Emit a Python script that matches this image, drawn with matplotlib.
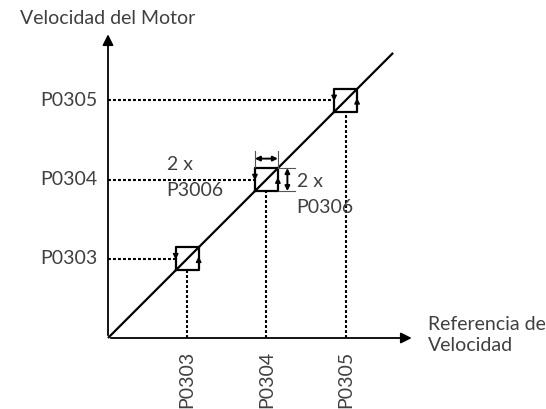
import matplotlib.pyplot as plt

# niveles de referencia (unidades del diagrama)
niveles = [1, 2, 3]
etiquetas = ['P0303', 'P0304', 'P0305']
histeresis = 0.145          # medio ancho del cuadro
fin_diagonal = 3.6
fin_eje = 3.87

s = 79.2                    # pixeles por unidad
ox, oy = 108, 338           # origen en pixeles
W, H = 546, 409

fig = plt.figure(figsize=(W / 100, H / 100), dpi=100)
ax = fig.add_axes([0, 0, 1, 1])
ax.set_xlim(-ox / s, (W - ox) / s)
ax.set_ylim(-(H - oy) / s, oy / s)
ax.axis('off')

plt.rcParams['font.family'] = ['Lato', 'DejaVu Sans']
gris = '#404040'
fs = 14

# ejes
ax.annotate('', xy=(0, fin_eje), xytext=(0, 0),
            arrowprops=dict(arrowstyle='-|>', lw=1.3, color='k', mutation_scale=16))
ax.annotate('', xy=(fin_eje, 0), xytext=(0, 0),
            arrowprops=dict(arrowstyle='-|>', lw=1.3, color='k', mutation_scale=16))
ax.text(-88 / s, (oy - 19) / s, 'Velocidad del Motor', fontsize=fs, color=gris,
        ha='left', va='center')
ax.text((428 - ox) / s, 0.04, 'Referencia de\nVelocidad', fontsize=fs, color=gris,
        ha='left', va='center', linespacing=1.3)

# diagonal
ax.plot([0, fin_diagonal], [0, fin_diagonal], color='k', lw=1.6, solid_capstyle='butt')

h = histeresis
for n, lab in zip(niveles, etiquetas):
    # punteadas
    ax.plot([0, n - h], [n, n], color='k', lw=1.5, ls=(0, (1.4, 1.0)))
    ax.plot([n, n], [0, n - h], color='k', lw=1.5, ls=(0, (1.4, 1.0)))
    # cuadro
    ax.plot([n - h, n + h, n + h, n - h, n - h], [n - h, n - h, n + h, n + h, n - h],
            color='k', lw=1.6)
    # flechas de histeresis
    ax.annotate('', xy=(n - h, n - 0.01), xytext=(n - h, n + h),
                arrowprops=dict(arrowstyle='-|>', lw=1.0, color='k', mutation_scale=8,
                                shrinkA=0, shrinkB=0))
    ax.annotate('', xy=(n + h, n + 0.03), xytext=(n + h, n - h),
                arrowprops=dict(arrowstyle='-|>', lw=1.0, color='k', mutation_scale=8,
                                shrinkA=0, shrinkB=0))
    # etiquetas
    ax.text(-0.13, n, lab, fontsize=fs, color=gris, ha='right', va='center')
    ax.text(n, -13 / s, lab, fontsize=fs, color=gris, ha='center', va='top', rotation=90)

# cotas del cuadro P0304
n = niveles[1]
ax.plot([n - h, n - h], [n + h, n + h + 0.22], color='#555555', lw=0.8)
ax.plot([n + h, n + h], [n + h, n + h + 0.22], color='#555555', lw=0.8)
ax.annotate('', xy=(n - h, n + h + 0.12), xytext=(n + h, n + h + 0.12),
            arrowprops=dict(arrowstyle='<|-|>', lw=1.4, color='k', mutation_scale=7,
                            shrinkA=0, shrinkB=0))
ax.plot([n + h, n + h + 0.22], [n + h, n + h], color='#555555', lw=0.8)
ax.plot([n + h, n + h + 0.22], [n - h, n - h], color='#555555', lw=0.8)
ax.annotate('', xy=(n + h + 0.12, n + h), xytext=(n + h + 0.12, n - h),
            arrowprops=dict(arrowstyle='<|-|>', lw=1.4, color='k', mutation_scale=7,
                            shrinkA=0, shrinkB=0))

ax.text((167 - ox) / s, (oy - 165) / s, '2 x', fontsize=fs, color=gris, ha='left', va='center')
ax.text((166 - ox) / s, (oy - 191) / s, 'P3006', fontsize=fs, color=gris, ha='left', va='center')
ax.text((297 - ox) / s, (oy - 182) / s, '2 x', fontsize=fs, color=gris, ha='left', va='center')
ax.text((296 - ox) / s, (oy - 208) / s, 'P0306', fontsize=fs, color=gris, ha='left', va='center')

fig.savefig('out.png', dpi=100)
